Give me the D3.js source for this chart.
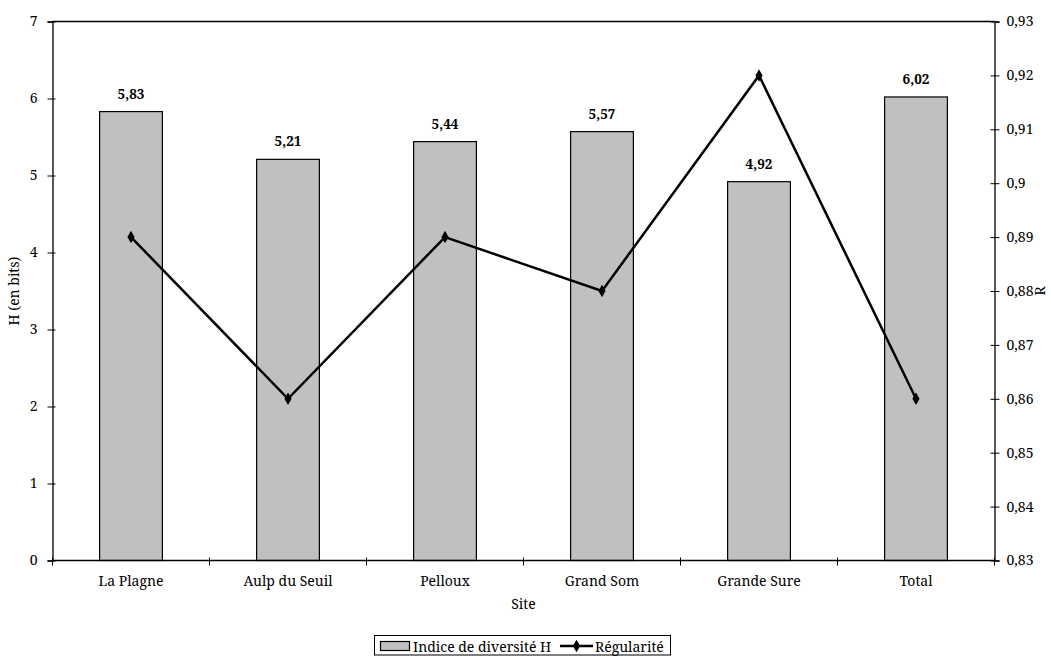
<!DOCTYPE html>
<html><head><meta charset="utf-8">
<script src="https://cdn.jsdelivr.net/npm/d3@7/dist/d3.min.js"></script>
<style>body{margin:0;background:#fff}svg{display:block}</style>
</head><body><svg id="c" width="1051" height="656"></svg>
<script>
const categories = ["La Plagne","Aulp du Seuil","Pelloux","Grand Som","Grande Sure","Total"];
const hValues = [5.83,5.21,5.44,5.57,4.92,6.02];
const hLabels = ["5,83","5,21","5,44","5,57","4,92","6,02"];
const rValues = [0.89,0.86,0.89,0.88,0.92,0.86];
const leftTicks = [0,1,2,3,4,5,6,7];
const rightTicks = [0.83,0.84,0.85,0.86,0.87,0.88,0.89,0.90,0.91,0.92,0.93];
const rightTickLabels = ["0,83","0,84","0,85","0,86","0,87","0,88","0,89","0,9","0,91","0,92","0,93"];

const FONT = '"Noto Serif","DejaVu Serif",serif';
const FS = "14px";
const svg = d3.select("#c");
const L=52.5, R=994.5, T=21.5, B=560.5;
const x = d3.scaleBand().domain(categories).range([L,R]).paddingInner(0).paddingOuter(0);
const y = d3.scaleLinear().domain([0,7]).range([B,T]);
const y2 = d3.scaleLinear().domain([0.83,0.93]).range([B,T]);
const bw = x.bandwidth()*0.4;

svg.append("line").attr("x1",L).attr("x2",R).attr("y1",T).attr("y2",T).attr("stroke","#000").attr("stroke-width",1.3);

svg.selectAll("rect.bar").data(hValues).enter().append("rect")
  .attr("x",(d,i)=>x(categories[i])+x.bandwidth()/2-bw/2)
  .attr("y",d=>y(d)).attr("width",bw).attr("height",d=>B-y(d))
  .attr("fill","#c0c0c0").attr("stroke","#000").attr("stroke-width",1.2);

svg.selectAll("text.bl").data(hValues).enter().append("text")
  .attr("x",(d,i)=>x(categories[i])+x.bandwidth()/2).attr("y",d=>y(d)-13)
  .attr("text-anchor","middle")
  .style("font-family",FONT).style("font-size","13.5px").style("font-weight","bold")
  .text((d,i)=>hLabels[i]);

const la = svg.append("g").attr("transform",`translate(${L},0)`)
  .call(d3.axisLeft(y).tickValues(leftTicks).tickSize(5).tickPadding(10).tickFormat(d3.format("d")));
la.selectAll(".tick line").attr("x2",-5).attr("x1",3);
const ra = svg.append("g").attr("transform",`translate(${R},0)`)
  .call(d3.axisRight(y2).tickValues(rightTicks).tickSize(5).tickPadding(7).tickFormat((d,i)=>rightTickLabels[i]));
ra.selectAll(".tick line").attr("x1",-4);
const ba = svg.append("g").attr("transform",`translate(0,${B})`)
  .call(d3.axisBottom(x).tickSize(0).tickPadding(16));
[la, ra, ba].forEach(g=>{
  g.select(".domain").attr("stroke","#000").attr("stroke-width",1.3);
  g.selectAll(".tick line").attr("stroke","#000").attr("stroke-width",1);
  g.selectAll("text").style("font-family",FONT).style("font-size",FS).attr("fill","#000");
});
ba.select(".domain").attr("d",`M${L},0H${R}`);
const seps = categories.map(c=>x(c)).concat([R]);
svg.selectAll("line.sep").data(seps).enter().append("line")
  .attr("x1",d=>d).attr("x2",d=>d).attr("y1",B-3).attr("y2",B+5)
  .attr("stroke","#000").attr("stroke-width",1);

const line = d3.line().x((d,i)=>x(categories[i])+x.bandwidth()/2).y(d=>y2(d));
svg.append("path").datum(rValues).attr("d",line).attr("fill","none").attr("stroke","#000").attr("stroke-width",2.5);
svg.selectAll("path.mk").data(rValues).enter().append("path")
  .attr("d",d3.symbol(d3.symbolDiamond,45))
  .attr("transform",(d,i)=>`translate(${x(categories[i])+x.bandwidth()/2},${y2(d)})`)
  .attr("fill","#000");

const txt = (sel)=>sel.style("font-family",FONT).style("font-size",FS).attr("fill","#000");
svg.append("text").attr("x",(L+R)/2).attr("y",609).attr("text-anchor","middle").call(txt).text("Site");
svg.append("text").attr("transform",`translate(19,${(T+B)/2}) rotate(-90)`).attr("text-anchor","middle").call(txt).text("H  (en bits)");
svg.append("text").attr("transform",`translate(1045,${(T+B)/2}) rotate(-90)`).attr("text-anchor","middle").call(txt).text("R");

const lg = svg.append("g");
lg.append("rect").attr("x",374.5).attr("y",635.5).attr("width",296).attr("height",19.5).attr("fill","#fff").attr("stroke","#000").attr("stroke-width",1);
lg.append("rect").attr("x",380.5).attr("y",641.5).attr("width",29).attr("height",9).attr("fill","#c0c0c0").attr("stroke","#000").attr("stroke-width",1.2);
lg.append("text").attr("x",413).attr("y",651.5).call(txt).text("Indice de diversité H");
lg.append("line").attr("x1",560).attr("x2",593).attr("y1",646).attr("y2",646).attr("stroke","#000").attr("stroke-width",2.5);
lg.append("path").attr("d",d3.symbol(d3.symbolDiamond,45)).attr("transform","translate(576.5,646)").attr("fill","#000");
lg.append("text").attr("x",595).attr("y",651.5).call(txt).text("Régularité");
</script></body></html>
